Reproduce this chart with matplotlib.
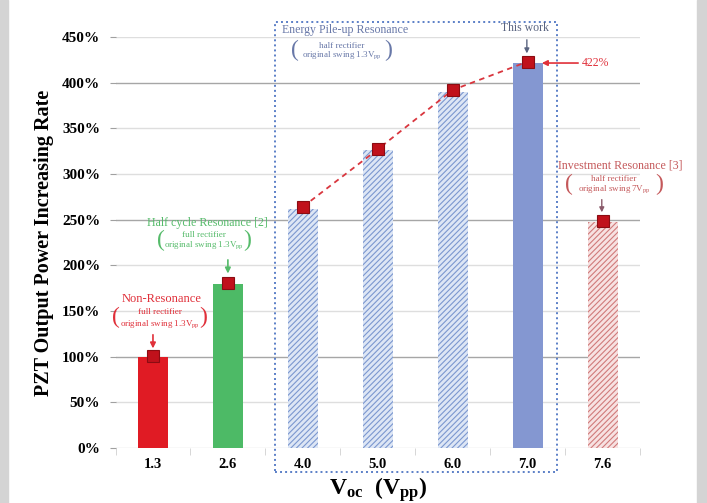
import matplotlib
matplotlib.use("Agg")
import matplotlib.pyplot as plt
from matplotlib.patches import Rectangle

plt.rcParams['font.family'] = ['Liberation Serif', 'DejaVu Serif']
plt.rcParams['mathtext.fontset'] = 'custom'
plt.rcParams['mathtext.rm'] = 'Liberation Serif'
plt.rcParams['mathtext.it'] = 'Liberation Serif:italic'
plt.rcParams['mathtext.bf'] = 'Liberation Serif:bold'
plt.rcParams['hatch.linewidth'] = 0.8

categories = ["1.3", "2.6", "4.0", "5.0", "6.0", "7.0", "7.6"]
values = [100, 180, 262, 326, 390, 421, 247]
marker_values = [101, 181, 264, 327, 392, 423, 249]
yticks = [0, 50, 100, 150, 200, 250, 300, 350, 400, 450]

face = ['#e01b24', '#4dba66', '#dde6f5', '#dde6f5', '#dde6f5', '#8497d1', '#f7e1e1']
edge = ['#e01b24', '#4dba66', '#7b97cf', '#7b97cf', '#7b97cf', '#8497d1', '#d07a7a']
hatch = [None, None, '//////', '//////', '//////', None, '//////']

fig = plt.figure(figsize=(7.07, 5.03), dpi=100)
fig.patch.set_facecolor('white')
# grey side margins
fig.add_artist(Rectangle((0, 0), 8/707, 1, transform=fig.transFigure, color='#d4d4d4', zorder=0))
fig.add_artist(Rectangle((697/707, 0), 10/707, 1, transform=fig.transFigure, color='#d4d4d4', zorder=0))

ax = fig.add_axes([115.5/707, 1-448/503, (640-115.5)/707, (448-37)/503])
x = list(range(len(categories)))

for i in x:
    ax.bar(i, values[i], width=0.4, color=face[i], edgecolor=edge[i],
           hatch=hatch[i], linewidth=0, zorder=3)

ax.set_xlim(-0.5, 6.5)
ax.set_ylim(0, 450)

# gridlines
for v in yticks:
    c = '#a6a6a6' if v in (100, 250, 400) else '#dedede'
    ax.axhline(v, color=c, lw=1.0, zorder=1)

ax.set_yticks(yticks)
ax.set_yticklabels([f"{v}%" for v in yticks], fontsize=11, fontweight='bold')
ax.set_xticks(x)
ax.set_xticklabels(categories, fontsize=10.5, fontweight='bold')
ax.tick_params(axis='x', length=0, pad=7)
ax.tick_params(axis='y', length=4, color='#a0a0a0', pad=7)
ax.set_xticks([i + 0.5 for i in range(-1, 7)], minor=True)
ax.tick_params(axis='x', which='minor', length=5, color='#d0d0d0')
for s in ax.spines.values():
    s.set_visible(False)

ax.set_ylabel("PZT Output Power Increasing Rate", fontsize=14.5, fontweight='bold', labelpad=6)
ax.set_xlabel(r"V$_{\mathbf{oc}}$  (V$_{\mathbf{pp}}$)", fontsize=17, fontweight='bold', labelpad=3)

# markers & dashed trend
ax.plot(x[2:6], marker_values[2:6], ls=(0, (3, 2.5)), color='#d9363e', lw=1.3, zorder=4)
ax.plot(x, marker_values, ls='none', marker='s', ms=8, mfc='#c0111b', mec='#8b0c12', mew=0.8, zorder=5)

# dotted box around Energy Pile-up group
box = Rectangle((1.627, -26), 5.387 - 1.627, 466.6 + 26, fill=False, ec='#5b7fc7',
                lw=1.4, ls=(0, (1, 1.6)), clip_on=False, zorder=6)
ax.add_patch(box)

red = '#e0303a'
green = '#55bb6a'
blue = '#6878a8'
rose = '#c4585a'

def subblock(xc, y2, y3, sub1, sub2, col, w):
    ax.text(xc, y2, sub1, color=col, fontsize=6.5, ha='center', va='center', zorder=7)
    ax.text(xc, y3, sub2, color=col, fontsize=6.5, ha='center', va='center', zorder=7)
    ym = (y2 + y3) / 2
    ax.text(xc - w, ym, "(", color=col, fontsize=17, ha='center', va='center', zorder=7)
    ax.text(xc + w, ym, ")", color=col, fontsize=17, ha='center', va='center', zorder=7)

# Non-Resonance
ax.text(0.12, 163.1, "Non-Resonance", color=red, fontsize=9, ha='center', va='center', zorder=7)
subblock(0.09, 149.2, 135.8, "full rectifier", r"original swing 1.3V$_{\mathrm{pp}}$", red, 0.58)
ax.annotate("", xy=(0, 106), xytext=(0, 127),
            arrowprops=dict(arrowstyle='-|>', color=red, lw=1.2, mutation_scale=8))

# Half cycle Resonance
ax.text(0.72, 246.7, "Half cycle Resonance [2]", color=green, fontsize=8.6, ha='center', va='center', zorder=7)
subblock(0.68, 233.2, 222.3, "full rectifier", r"original swing 1.3V$_{\mathrm{pp}}$", green, 0.58)
ax.annotate("", xy=(1, 188), xytext=(1, 209),
            arrowprops=dict(arrowstyle='-|>', color=green, lw=1.2, mutation_scale=8))

# Energy Pile-up Resonance
ax.text(1.72, 457.7, "Energy Pile-up Resonance", color=blue, fontsize=8.6, ha='left', va='center', zorder=7)
subblock(2.52, 440.2, 430.3, "half rectifier", r"original swing 1.3V$_{\mathrm{pp}}$", blue, 0.62)

# This work
ax.text(4.96, 459.9, "This work", color='#5a6480', fontsize=8.5, ha='center', va='center', zorder=7)
ax.annotate("", xy=(4.99, 429), xytext=(4.99, 450),
            arrowprops=dict(arrowstyle='-|>', color='#5a6480', lw=1.0, mutation_scale=7))

# 422% label
ax.annotate("422%", xy=(5.19, 421.5), xytext=(5.73, 421.5), color=red, fontsize=8.5,
            va='center', ha='left', zorder=7,
            arrowprops=dict(arrowstyle='-|>', color=red, lw=1.2, mutation_scale=8,
                            shrinkA=1, shrinkB=0))

# Investment Resonance
ax.text(6.23, 308.8, "Investment Resonance [3]", color=rose, fontsize=8.6, ha='center', va='center',
        zorder=7, clip_on=False)
subblock(6.15, 294.6, 283.6, "half rectifier", r"original swing 7V$_{\mathrm{pp}}$", rose, 0.6)
ax.annotate("", xy=(5.99, 255), xytext=(5.99, 275),
            arrowprops=dict(arrowstyle='-|>', color='#8a5a6a', lw=1.0, mutation_scale=7))

fig.savefig("out.png", dpi=100)
